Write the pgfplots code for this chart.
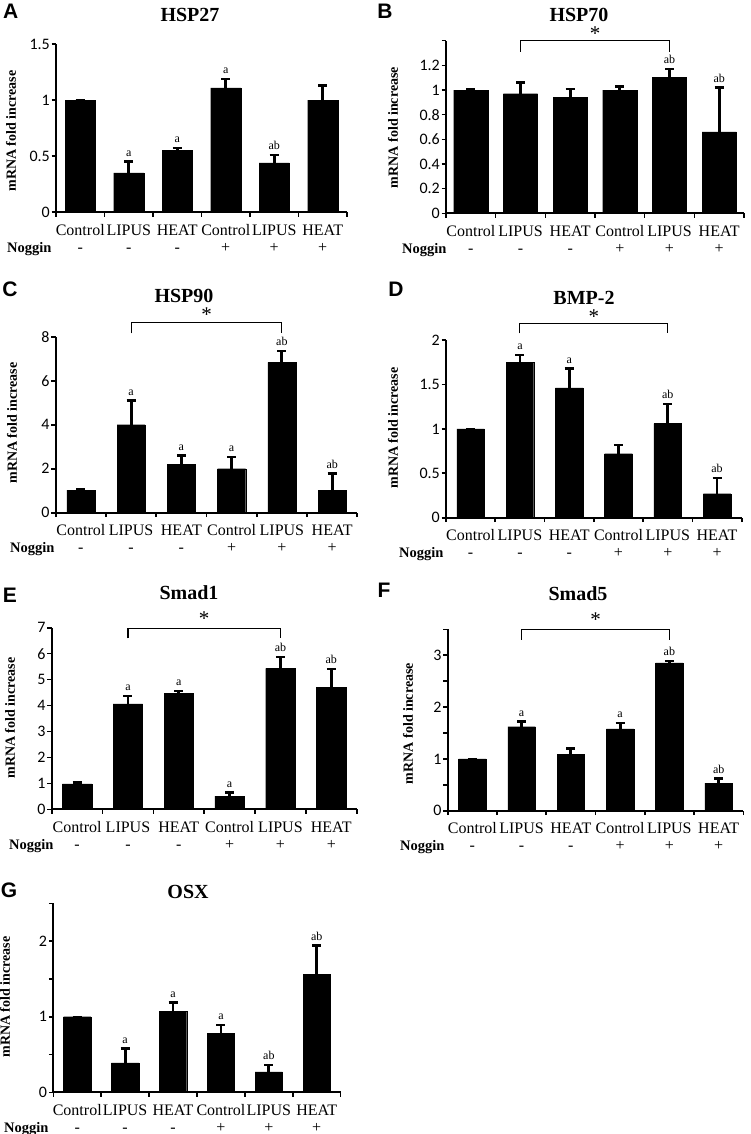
\documentclass[border=0pt]{standalone}
\usepackage{fontspec}
\setmainfont{Liberation Serif}
\newfontfamily\carlito{Carlito}
\newfontfamily\arialfont{Liberation Sans}
\usepackage{pgfplots}
\pgfplotsset{compat=1.18}
\usepackage{pgfplotstable}

\pgfplotstableread{
x y e lab
0 1.00 0.00 {}
1 0.35 0.10 a
2 0.55 0.02 a
3 1.11 0.08 a
4 0.44 0.07 ab
5 1.00 0.13 {}
}\dataA
\pgfplotstableread{
x y e lab
0 1.00 0.01 {}
1 0.97 0.09 {}
2 0.94 0.07 {}
3 1.00 0.03 {}
4 1.10 0.07 ab
5 0.66 0.36 ab
}\dataB
\pgfplotstableread{
x y e lab
0 1.03 0.05 {}
1 4.00 1.10 a
2 2.20 0.40 a
3 2.00 0.52 a
4 6.83 0.52 ab
5 1.03 0.76 ab
}\dataC
\pgfplotstableread{
x y e lab
0 1.00 0.00 {}
1 1.75 0.08 a
2 1.46 0.22 a
3 0.72 0.10 {}
4 1.06 0.22 ab
5 0.27 0.18 ab
}\dataD
\pgfplotstableread{
x y e lab
0 0.98 0.05 {}
1 4.06 0.31 a
2 4.47 0.10 a
3 0.51 0.14 a
4 5.43 0.43 ab
5 4.69 0.72 ab
}\dataE
\pgfplotstableread{
x y e lab
0 1.00 0.00 {}
1 1.62 0.10 a
2 1.09 0.11 {}
3 1.58 0.11 a
4 2.85 0.04 ab
5 0.53 0.09 ab
}\dataF
\pgfplotstableread{
x y e lab
0 1.00 0.00 {}
1 0.39 0.19 a
2 1.07 0.12 a
3 0.78 0.11 a
4 0.27 0.09 ab
5 1.56 0.38 ab
}\dataG

\pgfplotsset{
 panel/.style={
  scale only axis,
  anchor=south west,
  xmin=-0.5, xmax=5.5, ymin=0,
  axis x line=bottom, axis y line=left,
  axis line style={-, line width=1.9pt},
  xtick={0,...,5},
  xticklabels={Control,LIPUS,HEAT,Control,LIPUS,HEAT},
  minor xtick={-0.5,0.5,...,5.5},
  tick align=outside,
  major tick length=4.5pt, minor tick length=4.5pt,
  tick style={black, line width=1.6pt},
  major x tick style={draw=none},
  xticklabel style={font=\fontsize{16}{16}\selectfont, anchor=base, yshift=-18.5pt, inner sep=0pt},
  yticklabel style={font=\carlito\fontsize{16}{16}\selectfont, inner sep=1.5pt},
  /pgf/number format/assume math mode=true,
  clip=false,
 },
 labs/.style={draw=none, nodes near coords, point meta=explicit symbolic,
  nodes near coords style={font=\fontsize{12}{12}\selectfont, anchor=south, inner sep=1pt, yshift=4pt}},
}

\newcommand\panelextras{%
 \pgfplotsinvokeforeach{0,1,2}{\node[anchor=base, font=\fontsize{16}{16}\selectfont] at ([yshift=-40pt]axis cs:##1,0) {-};}
 \pgfplotsinvokeforeach{3,4,5}{\node[anchor=base, font=\fontsize{16}{16}\selectfont] at ([yshift=-40pt]axis cs:##1,0) {+};}
}
\newcommand\bracket[3]{%
 \draw[line width=1.1pt] (axis cs:1,#1) -- (axis cs:1,#2) -- (axis cs:4,#2) -- (axis cs:4,#1);
 \node[font=\fontsize{21}{21}\selectfont, inner sep=0pt] at (axis cs:2.5,#3) {*};
}
\newcommand\barplot[2]{%
 \addplot[ybar, bar width=#2, fill=black, draw=black,
   error bars/.cd, y dir=plus, y explicit,
   error bar style={line width=2.8pt, black},
   error mark options={rotate=90, black, mark size=4.5pt, line width=2.4pt}]
   table[x=x,y=y,y error=e]{#1};
 \addplot[labs] table[x=x, y expr=\thisrow{y}+\thisrow{e}, meta=lab]{#1};
}
\newcommand\ttl[3]{\node[font=\bfseries\fontsize{20}{20}\selectfont, inner sep=0pt] at (#1pt,-#2pt) {#3};}
\newcommand\letter[3]{\node[font=\arialfont\bfseries\fontsize{21}{21}\selectfont, inner sep=0pt] at (#1pt,-#2pt) {#3};}
\newcommand\ylab[2]{\node[rotate=90, font=\bfseries\fontsize{14}{14}\selectfont, inner sep=0pt] at (#1pt,-#2pt) {mRNA fold increase};}
\newcommand\nog[2]{\node[anchor=base west, inner sep=0pt, font=\bfseries\fontsize{14.5}{14.5}\selectfont] at (#1pt,-#2pt) {Noggin};}

\begin{document}
\begin{tikzpicture}
\useasboundingbox (0pt,0pt) rectangle (750pt,-1134pt);

\letter{10.8}{10.8}{A}\letter{385}{10.8}{B}\letter{10}{289}{C}\letter{396}{289}{D}
\letter{10}{595}{E}\letter{384}{590}{F}\letter{9}{890}{G}
\ttl{190}{15}{HSP27}\ttl{579}{15}{HSP70}\ttl{184}{296}{HSP90}\ttl{584}{298}{BMP-2}
\ttl{189}{593}{Smad1}\ttl{578}{594}{Smad5}\ttl{188}{892}{OSX}
\ylab{11}{131}\ylab{393}{127.5}\ylab{12}{423}\ylab{393}{428}
\ylab{10}{718}\ylab{408}{723.5}\ylab{5}{997}
\nog{7}{252}\nog{402}{253.3}\nog{10}{552.7}\nog{399}{557.7}
\nog{9}{849.3}\nog{400}{850.7}\nog{4}{1132.3}

% A
\begin{axis}[panel, at={(56pt,-212pt)}, width=291pt, height=167.7pt, ymax=1.5, ytick={0,0.5,1,1.5}]
\barplot{\dataA}{0.62}
\panelextras
\end{axis}
% B
\begin{axis}[panel, at={(446pt,-213.3pt)}, width=298pt, height=172.6pt, ymax=1.4, ytick={0,0.2,...,1.2}, minor ytick={1.4}]
\barplot{\dataB}{0.69}
\panelextras
\bracket{1.31}{1.40}{1.46}
\end{axis}
% C
\begin{axis}[panel, at={(55.7pt,-512.7pt)}, width=301.6pt, height=176pt, ymax=8, ytick={0,2,...,8}]
\barplot{\dataC}{0.56}
\panelextras
\bracket{8.15}{8.64}{8.99}
\end{axis}
% D
\begin{axis}[panel, at={(446pt,-517.7pt)}, width=295.7pt, height=177.7pt, ymax=2, ytick={0,0.5,...,2}]
\barplot{\dataD}{0.56}
\panelextras
\bracket{2.075}{2.19}{2.26}
\end{axis}
% E
\begin{axis}[panel, at={(51.7pt,-809.3pt)}, width=305pt, height=181.6pt, ymax=7, ytick={0,1,...,7}]
\barplot{\dataE}{0.58}
\panelextras
\bracket{6.59}{6.97}{7.36}
\end{axis}
% F
\begin{axis}[panel, at={(447.7pt,-810.7pt)}, width=295.6pt, height=181.4pt, ymax=3.5, ytick={0,1,2,3}, minor ytick={0.5,1.5,2.5,3.5}]
\barplot{\dataF}{0.56}
\panelextras
\bracket{3.30}{3.49}{3.68}
\end{axis}
% G
\begin{axis}[panel, at={(53.3pt,-1092.3pt)}, width=287.4pt, height=189pt, ymax=2.5, ytick={0,1,2}, minor ytick={0.5,1.5,2.5}]
\barplot{\dataG}{0.57}
\panelextras
\end{axis}
\end{tikzpicture}
\end{document}
